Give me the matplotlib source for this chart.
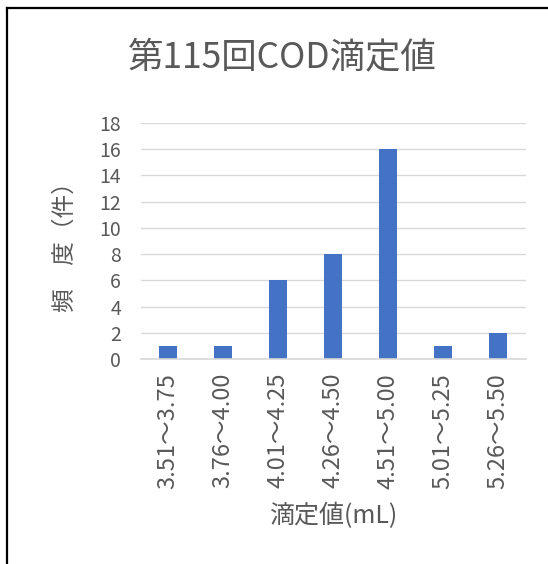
import matplotlib
matplotlib.use("Agg")
import matplotlib.pyplot as plt
from matplotlib.lines import Line2D

plt.rcParams['font.family'] = ['Noto Sans CJK JP', 'DejaVu Sans']

categories = ['3.51～3.75', '3.76～4.00', '4.01～4.25', '4.26～4.50',
              '4.51～5.00', '5.01～5.25', '5.26～5.50']
counts = [1, 1, 6, 8, 16, 1, 2]
yticks = list(range(0, 20, 2))

txt = '#595959'
W, H = 548, 564

fig = plt.figure(figsize=(W / 100, H / 100), dpi=100)
# plot area in pixel coords: x 140..525, y 123..359 (from top)
ax = fig.add_axes([140.5 / W, 1 - 359 / H, 385 / W, 236 / H])

x = range(len(categories))
ax.bar(x, counts, width=0.32, color='#4472C4', zorder=3)
ax.set_xlim(-0.5, len(categories) - 0.5)
ax.set_ylim(0, 18)
ax.set_yticks(yticks)
ax.set_xticks(list(x))
ax.set_xticklabels(categories, rotation=90, fontsize=17, color=txt)
ax.tick_params(axis='y', labelsize=14, colors=txt, length=0, pad=14)
ax.tick_params(axis='x', length=0, pad=10)
ax.grid(axis='y', color='#D9D9D9', linewidth=1, zorder=0)
for s in ['top', 'right', 'left']:
    ax.spines[s].set_visible(False)
ax.spines['bottom'].set_color('#D9D9D9')
ax.spines['bottom'].set_linewidth(1.2)
ax.spines['bottom'].set_zorder(4)

ax.set_ylabel('頻　度（件）', fontsize=17, color=txt, labelpad=16)
ax.set_xlabel('滴定値(mL)', fontsize=18, color=txt, labelpad=10)
fig.text(282 / W, 1 - 57 / H, '第115回COD滴定値', fontsize=25.5, color=txt,
         ha='center', va='center')

# chart frame (only left and top edges visible in the crop)
fig.add_artist(Line2D([7 / W, 7 / W], [0, 1 - 8 / H], color='black', linewidth=1.6,
                      transform=fig.transFigure))
fig.add_artist(Line2D([7 / W, 1], [1 - 8 / H, 1 - 8 / H], color='black', linewidth=1.6,
                      transform=fig.transFigure))

fig.savefig('out.png', dpi=100)
